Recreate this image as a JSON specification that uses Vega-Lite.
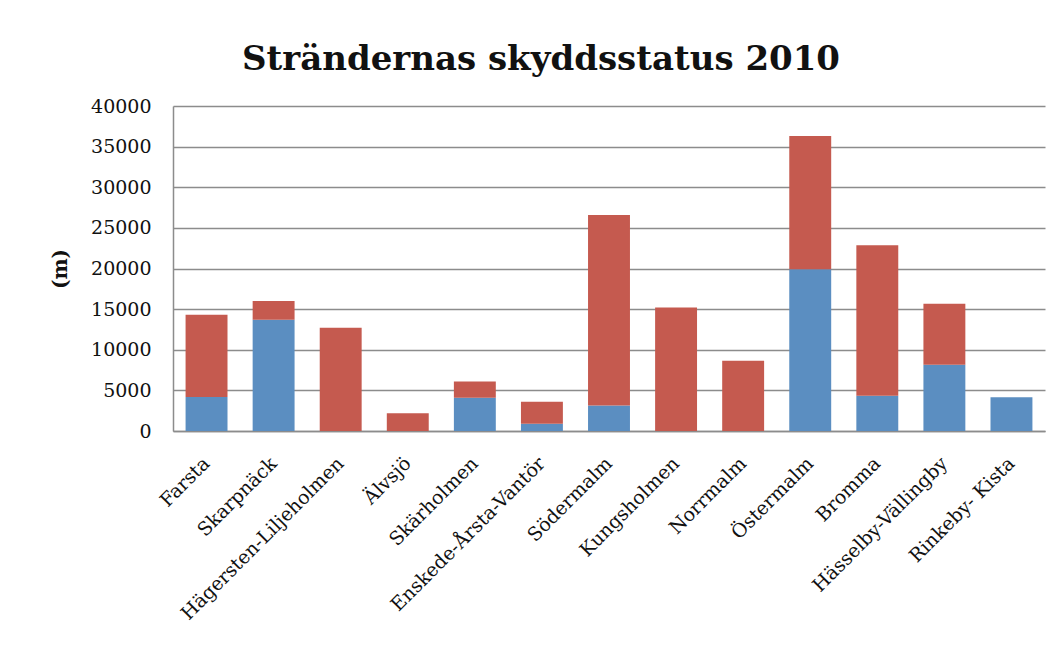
{
  "$schema": "https://vega.github.io/schema/vega-lite/v6.json",
  "width": 872,
  "height": 325,
  "padding": {"left": 50, "top": 43, "right": 17, "bottom": 0},
  "background": "white",
  "title": {
    "text": "Strändernas skyddsstatus 2010",
    "font": "DejaVu Serif",
    "fontSize": 34,
    "fontWeight": "bold",
    "color": "#111111",
    "anchor": "middle",
    "dx": -68,
    "offset": 20
  },
  "data": {
    "values": [
      {"stadsdel": "Farsta", "status": "Skyddad", "langd": 4200},
      {"stadsdel": "Farsta", "status": "Ej skyddad", "langd": 10100},
      {"stadsdel": "Skarpnäck", "status": "Skyddad", "langd": 13700},
      {"stadsdel": "Skarpnäck", "status": "Ej skyddad", "langd": 2300},
      {"stadsdel": "Hägersten-Liljeholmen", "status": "Skyddad", "langd": 0},
      {"stadsdel": "Hägersten-Liljeholmen", "status": "Ej skyddad", "langd": 12700},
      {"stadsdel": "Älvsjö", "status": "Skyddad", "langd": 0},
      {"stadsdel": "Älvsjö", "status": "Ej skyddad", "langd": 2200},
      {"stadsdel": "Skärholmen", "status": "Skyddad", "langd": 4100},
      {"stadsdel": "Skärholmen", "status": "Ej skyddad", "langd": 2000},
      {"stadsdel": "Enskede-Årsta-Vantör", "status": "Skyddad", "langd": 900},
      {"stadsdel": "Enskede-Årsta-Vantör", "status": "Ej skyddad", "langd": 2700},
      {"stadsdel": "Södermalm", "status": "Skyddad", "langd": 3150},
      {"stadsdel": "Södermalm", "status": "Ej skyddad", "langd": 23450},
      {"stadsdel": "Kungsholmen", "status": "Skyddad", "langd": 0},
      {"stadsdel": "Kungsholmen", "status": "Ej skyddad", "langd": 15200},
      {"stadsdel": "Norrmalm", "status": "Skyddad", "langd": 0},
      {"stadsdel": "Norrmalm", "status": "Ej skyddad", "langd": 8650},
      {"stadsdel": "Östermalm", "status": "Skyddad", "langd": 19900},
      {"stadsdel": "Östermalm", "status": "Ej skyddad", "langd": 16400},
      {"stadsdel": "Bromma", "status": "Skyddad", "langd": 4350},
      {"stadsdel": "Bromma", "status": "Ej skyddad", "langd": 18500},
      {"stadsdel": "Hässelby-Vällingby", "status": "Skyddad", "langd": 8150},
      {"stadsdel": "Hässelby-Vällingby", "status": "Ej skyddad", "langd": 7500},
      {"stadsdel": "Rinkeby- Kista", "status": "Skyddad", "langd": 4150},
      {"stadsdel": "Rinkeby- Kista", "status": "Ej skyddad", "langd": 0}
    ]
  },
  "mark": {"type": "bar"},
  "encoding": {
    "x": {
      "field": "stadsdel",
      "type": "nominal",
      "sort": null,
      "title": null,
      "scale": {"paddingInner": 0.375, "paddingOuter": 0.1875},
      "axis": {
        "labelAngle": -45,
        "labelAlign": "right",
        "labelBaseline": "middle",
        "labelPadding": 29,
        "labelLimit": 0,
        "ticks": false,
        "labelFont": "DejaVu Serif",
        "labelFontSize": 19,
        "labelColor": "#111111",
        "domainColor": "#8c8c8c",
        "domainWidth": 1.5
      }
    },
    "y": {
      "field": "langd",
      "type": "quantitative",
      "stack": "zero",
      "title": "(m)",
      "scale": {"domain": [0, 40000]},
      "axis": {
        "values": [0, 5000, 10000, 15000, 20000, 25000, 30000, 35000, 40000],
        "format": "d",
        "ticks": false,
        "labelPadding": 22,
        "labelFont": "DejaVu Serif",
        "labelFontSize": 19,
        "labelColor": "#111111",
        "titleFont": "DejaVu Serif",
        "titleFontSize": 20,
        "titleFontWeight": "bold",
        "titleColor": "#111111",
        "titlePadding": 20,
        "domainColor": "#8c8c8c",
        "domainWidth": 1.5,
        "gridColor": "#8c8c8c",
        "gridWidth": 1.5
      }
    },
    "color": {
      "field": "status",
      "type": "nominal",
      "scale": {"domain": ["Skyddad", "Ej skyddad"], "range": ["#5b8ec1", "#c55a4f"]},
      "legend": null
    },
    "order": {"field": "status", "sort": "descending"}
  },
  "config": {
    "view": {"stroke": null}
  }
}
